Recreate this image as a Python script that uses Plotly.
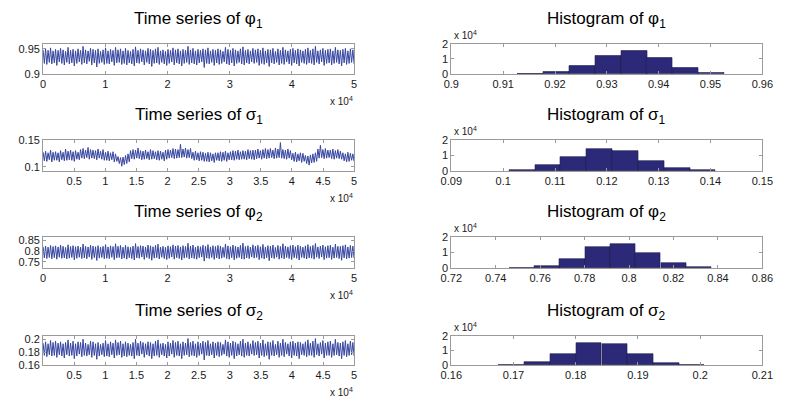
import numpy as np
import plotly.graph_objects as go

# ---------------- data ----------------
n_iter = 50000

phi1_trace = [
    0.948,0.921,0.950,0.919,0.947,0.923,0.952,0.920,0.946,0.922,
    0.949,0.917,0.947,0.924,0.951,0.921,0.948,0.918,0.945,0.923,
    0.953,0.920,0.947,0.922,0.949,0.916,0.946,0.921,0.950,0.924,
    0.947,0.919,0.955,0.922,0.948,0.920,0.946,0.925,0.951,0.918,
    0.949,0.922,0.947,0.914,0.950,0.921,0.945,0.923,0.948,0.919,
    0.952,0.921,0.946,0.920,0.949,0.924,0.947,0.917,0.953,0.922,
    0.948,0.923,0.950,0.919,0.946,0.921,0.951,0.918,0.947,0.922,
    0.945,0.920,0.949,0.916,0.954,0.922,0.947,0.921,0.950,0.924,
    0.948,0.918,0.946,0.923,0.951,0.920,0.949,0.915,0.947,0.921,
    0.950,0.922,0.953,0.919,0.946,0.923,0.948,0.920,0.945,0.917,
    0.949,0.921,0.947,0.924,0.952,0.918,0.948,0.922,0.950,0.920,
    0.946,0.916,0.949,0.921,0.947,0.923,0.955,0.919,0.948,0.922,
    0.951,0.920,0.946,0.918,0.949,0.922,0.947,0.924,0.950,0.913,
    0.948,0.921,0.952,0.920,0.946,0.923,0.949,0.917,0.947,0.922,
    0.950,0.919,0.948,0.921,0.945,0.924,0.953,0.920,0.949,0.918,
    0.947,0.922,0.951,0.916,0.948,0.921,0.946,0.923,0.950,0.920,
    0.954,0.918,0.947,0.922,0.949,0.920,0.946,0.924,0.951,0.921,
    0.948,0.923,0.950,0.917,0.947,0.921,0.952,0.919,0.946,0.922,
    0.949,0.915,0.948,0.922,0.951,0.920,0.945,0.923,0.950,0.918,
    0.947,0.921,0.953,0.919,0.948,0.924,0.946,0.920,0.949,0.917,
    0.951,0.922,0.947,0.920,0.950,0.916,0.948,0.923,0.946,0.921,
    0.949,0.919,0.952,0.922,0.947,0.921,0.950,0.918,0.955,0.923,
    0.946,0.920,0.948,0.924,0.951,0.917,0.947,0.921,0.949,0.922,
    0.950,0.918,0.946,0.921,0.953,0.923,0.948,0.920,0.947,0.916,
    0.949,0.922,0.951,0.919,0.946,0.921,0.950,0.923,0.948,0.920,
]

sigma1_trace = [
    0.127,0.111,0.129,0.110,0.126,0.113,0.131,0.109,0.127,0.112,
    0.128,0.112,0.126,0.109,0.130,0.113,0.127,0.111,0.133,0.112,
    0.129,0.113,0.131,0.112,0.128,0.110,0.130,0.114,0.127,0.113,
    0.132,0.116,0.134,0.115,0.131,0.117,0.136,0.114,0.132,0.116,
    0.131,0.115,0.130,0.113,0.133,0.116,0.129,0.114,0.132,0.112,
    0.127,0.112,0.129,0.111,0.126,0.113,0.128,0.109,0.124,0.110,
    0.119,0.106,0.117,0.101,0.118,0.104,0.121,0.106,0.124,0.109,
    0.130,0.115,0.132,0.114,0.131,0.116,0.135,0.115,0.130,0.113,
    0.129,0.114,0.131,0.115,0.128,0.113,0.132,0.114,0.130,0.115,
    0.128,0.113,0.130,0.112,0.129,0.114,0.127,0.111,0.131,0.114,
    0.132,0.116,0.131,0.117,0.134,0.115,0.133,0.116,0.132,0.117,
    0.142,0.117,0.133,0.118,0.135,0.116,0.132,0.117,0.134,0.115,
    0.127,0.112,0.129,0.113,0.126,0.111,0.128,0.112,0.127,0.110,
    0.125,0.110,0.127,0.109,0.126,0.111,0.124,0.108,0.126,0.112,
    0.126,0.111,0.128,0.110,0.127,0.112,0.129,0.110,0.126,0.113,
    0.128,0.113,0.130,0.112,0.129,0.114,0.131,0.113,0.128,0.114,
    0.130,0.114,0.129,0.113,0.132,0.115,0.130,0.114,0.131,0.113,
    0.131,0.115,0.133,0.116,0.130,0.114,0.132,0.116,0.134,0.115,
    0.132,0.116,0.134,0.117,0.131,0.115,0.135,0.116,0.133,0.117,
    0.145,0.116,0.132,0.115,0.131,0.114,0.133,0.116,0.130,0.113,
    0.125,0.110,0.127,0.109,0.124,0.111,0.126,0.108,0.125,0.110,
    0.121,0.106,0.120,0.103,0.122,0.107,0.124,0.108,0.126,0.110,
    0.133,0.116,0.140,0.117,0.132,0.115,0.134,0.116,0.131,0.117,
    0.131,0.115,0.133,0.114,0.130,0.116,0.132,0.115,0.129,0.114,
    0.126,0.111,0.124,0.109,0.127,0.110,0.125,0.112,0.124,0.110,
]

phi2_trace = [
    0.821,0.768,0.824,0.765,0.819,0.770,0.827,0.764,0.822,0.769,
    0.825,0.762,0.820,0.771,0.829,0.766,0.823,0.768,0.818,0.763,
    0.830,0.767,0.822,0.770,0.826,0.759,0.821,0.766,0.824,0.771,
    0.819,0.765,0.834,0.768,0.823,0.764,0.820,0.772,0.828,0.761,
    0.824,0.769,0.821,0.756,0.826,0.767,0.819,0.770,0.823,0.764,
    0.831,0.766,0.820,0.765,0.825,0.771,0.822,0.760,0.835,0.768,
    0.823,0.770,0.827,0.763,0.819,0.767,0.828,0.762,0.821,0.769,
    0.818,0.765,0.824,0.758,0.836,0.768,0.822,0.766,0.826,0.772,
    0.824,0.761,0.820,0.770,0.829,0.765,0.825,0.757,0.821,0.767,
    0.827,0.769,0.833,0.763,0.819,0.771,0.823,0.765,0.818,0.760,
    0.825,0.766,0.821,0.772,0.830,0.762,0.824,0.769,0.827,0.765,
    0.820,0.758,0.826,0.767,0.822,0.770,0.837,0.763,0.824,0.768,
    0.829,0.765,0.819,0.762,0.825,0.769,0.821,0.772,0.828,0.753,
    0.823,0.767,0.831,0.765,0.820,0.770,0.826,0.761,0.822,0.768,
    0.827,0.763,0.824,0.767,0.818,0.771,0.834,0.765,0.825,0.762,
    0.821,0.769,0.829,0.759,0.823,0.766,0.820,0.770,0.827,0.764,
    0.838,0.762,0.822,0.768,0.826,0.765,0.819,0.772,0.830,0.767,
    0.824,0.770,0.828,0.760,0.821,0.767,0.832,0.763,0.820,0.769,
    0.826,0.755,0.823,0.768,0.829,0.765,0.818,0.771,0.827,0.762,
    0.822,0.767,0.835,0.764,0.824,0.770,0.820,0.765,0.826,0.760,
    0.829,0.769,0.821,0.766,0.828,0.758,0.823,0.770,0.819,0.767,
    0.825,0.763,0.831,0.768,0.822,0.767,0.827,0.762,0.836,0.771,
    0.820,0.765,0.824,0.772,0.829,0.760,0.821,0.767,0.826,0.769,
    0.828,0.761,0.819,0.767,0.833,0.770,0.823,0.765,0.822,0.757,
    0.826,0.768,0.830,0.764,0.820,0.767,0.827,0.770,0.824,0.766,
]

sigma2_trace = [
    0.194,0.175,0.196,0.173,0.193,0.176,0.198,0.174,0.195,0.175,
    0.197,0.172,0.194,0.176,0.196,0.174,0.193,0.171,0.195,0.176,
    0.199,0.174,0.194,0.175,0.197,0.170,0.193,0.174,0.196,0.177,
    0.195,0.173,0.200,0.175,0.194,0.174,0.192,0.176,0.197,0.172,
    0.196,0.175,0.193,0.169,0.195,0.174,0.192,0.176,0.194,0.173,
    0.198,0.174,0.193,0.173,0.196,0.176,0.194,0.171,0.199,0.175,
    0.195,0.176,0.197,0.172,0.193,0.174,0.196,0.173,0.194,0.175,
    0.192,0.174,0.195,0.170,0.200,0.175,0.194,0.174,0.197,0.177,
    0.195,0.172,0.193,0.176,0.196,0.174,0.195,0.170,0.193,0.174,
    0.197,0.175,0.199,0.172,0.193,0.176,0.194,0.174,0.192,0.171,
    0.196,0.174,0.194,0.177,0.198,0.172,0.195,0.175,0.197,0.174,
    0.193,0.170,0.196,0.175,0.194,0.176,0.201,0.173,0.195,0.175,
    0.197,0.174,0.193,0.172,0.196,0.175,0.194,0.177,0.197,0.168,
    0.195,0.175,0.198,0.174,0.193,0.176,0.196,0.171,0.194,0.175,
    0.196,0.173,0.195,0.175,0.192,0.177,0.199,0.174,0.196,0.172,
    0.194,0.175,0.197,0.170,0.195,0.174,0.193,0.176,0.197,0.174,
    0.200,0.172,0.194,0.175,0.196,0.174,0.193,0.177,0.198,0.175,
    0.195,0.176,0.197,0.171,0.194,0.175,0.199,0.173,0.193,0.175,
    0.196,0.169,0.195,0.175,0.198,0.174,0.192,0.176,0.197,0.172,
    0.194,0.175,0.200,0.173,0.195,0.177,0.193,0.174,0.196,0.171,
    0.197,0.175,0.194,0.174,0.196,0.170,0.195,0.176,0.193,0.175,
    0.196,0.173,0.199,0.175,0.194,0.175,0.197,0.172,0.201,0.176,
    0.193,0.174,0.195,0.177,0.198,0.171,0.194,0.175,0.196,0.175,
    0.197,0.172,0.193,0.175,0.200,0.176,0.195,0.174,0.194,0.170,
    0.196,0.175,0.198,0.173,0.193,0.175,0.197,0.176,0.195,0.174,
]

# histogram bins (centres) and counts
phi1_bins = [0.9153, 0.9203, 0.9253, 0.9303, 0.9353, 0.9402, 0.9452, 0.9502]
phi1_counts = [200, 1300, 5300, 11700, 15400, 10800, 3800, 600]
sigma1_bins = [0.1037, 0.1086, 0.1136, 0.1186, 0.1236, 0.1286, 0.1336, 0.1385]
sigma1_counts = [400, 3700, 9200, 14400, 12900, 6200, 1900, 400]
phi2_bins = [0.7519, 0.7632, 0.7745, 0.7858, 0.7971, 0.8086, 0.8200, 0.8313]
phi2_counts = [200, 1300, 5800, 13300, 15300, 9700, 3000, 400]
sigma2_bins = [0.1696, 0.1738, 0.1780, 0.1821, 0.1863, 0.1904, 0.1945, 0.1986]
sigma2_counts = [200, 2000, 7600, 15200, 14800, 7600, 1800, 300]

# titles / ticks
names = ["φ<sub>1</sub>", "σ<sub>1</sub>", "φ<sub>2</sub>", "σ<sub>2</sub>"]
ts_xticks_full = [0, 10000, 20000, 30000, 40000, 50000]
ts_xlabels_full = ["0", "1", "2", "3", "4", "5"]
ts_xticks_half = [5000, 10000, 15000, 20000, 25000, 30000, 35000, 40000, 45000, 50000]
ts_xlabels_half = ["0.5", "1", "1.5", "2", "2.5", "3", "3.5", "4", "4.5", "5"]

ts_yticks = [[0.9, 0.95], [0.1, 0.15], [0.75, 0.8, 0.85], [0.16, 0.18, 0.2]]
ts_ylabels = [["0.9", "0.95"], ["0.1", "0.15"], ["0.75", "0.8", "0.85"], ["0.16", "0.18", "0.2"]]
ts_yranges = [[0.9, 0.96], [0.092, 0.15], [0.72, 0.867], [0.16, 0.205]]

h_xticks = [
    [0.9, 0.91, 0.92, 0.93, 0.94, 0.95, 0.96],
    [0.09, 0.1, 0.11, 0.12, 0.13, 0.14, 0.15],
    [0.72, 0.74, 0.76, 0.78, 0.8, 0.82, 0.84, 0.86],
    [0.16, 0.17, 0.18, 0.19, 0.2, 0.21],
]
h_xlabels = [
    ["0.9", "0.91", "0.92", "0.93", "0.94", "0.95", "0.96"],
    ["0.09", "0.1", "0.11", "0.12", "0.13", "0.14", "0.15"],
    ["0.72", "0.74", "0.76", "0.78", "0.8", "0.82", "0.84", "0.86"],
    ["0.16", "0.17", "0.18", "0.19", "0.2", "0.21"],
]
h_yticks = [0, 10000, 20000]
h_ylabels = ["0", "1", "2"]

traces = [phi1_trace, sigma1_trace, phi2_trace, sigma2_trace]
hbins = [phi1_bins, sigma1_bins, phi2_bins, sigma2_bins]
hcounts = [phi1_counts, sigma1_counts, phi2_counts, sigma2_counts]

# ---------------- layout geometry (pixels) ----------------
W, H = 786, 408
left_x = (33, 353)
right_x = (453, 773)
rows_y = [(39, 70), (138, 170), (238, 270), (340, 370)]

FONT = "Arial, 'Liberation Sans', Helvetica, sans-serif"
LINE_COL = "#3646a0"
BAR_COL = "#2c2a78"
AX_COL = "#9a9a9a"

fig = go.Figure()
layout = dict(
    width=W, height=H, margin=dict(l=0, r=0, t=0, b=0),
    paper_bgcolor="white", plot_bgcolor="white", showlegend=False,
    font=dict(family=FONT, size=11, color="#1a1a1a"),
)
annotations = []


def px2x(p):
    return p / W


def px2y(p):
    return 1 - p / H


def axis_common():
    return dict(showline=True, linecolor=AX_COL, linewidth=1, mirror="ticks",
                ticks="inside", ticklen=3, tickcolor=AX_COL, showgrid=False,
                zeroline=False, tickfont=dict(family=FONT, size=11, color="#1a1a1a"))


for i in range(4):
    y0, y1 = rows_y[i]
    ydom = [px2y(y1), px2y(y0)]
    # time series
    xa = 2 * i + 1
    ya = 2 * i + 1
    vals = traces[i]
    iters = np.linspace(1, n_iter, len(vals))
    fig.add_trace(go.Scatter(x=iters, y=vals, mode="lines",
                             line=dict(color=LINE_COL, width=1.0, simplify=False),
                             xaxis=f"x{xa}", yaxis=f"y{ya}", hoverinfo="skip"))
    full = (i % 2 == 0)
    xa_d = axis_common()
    xa_d.update(domain=[px2x(left_x[0]), px2x(left_x[1])], range=[0, n_iter],
                tickmode="array",
                tickvals=ts_xticks_full if full else ts_xticks_half,
                ticktext=ts_xlabels_full if full else ts_xlabels_half,
                anchor=f"y{ya}")
    ya_d = axis_common()
    ya_d.update(domain=ydom, range=ts_yranges[i], tickmode="array",
                tickvals=ts_yticks[i], ticktext=ts_ylabels[i], anchor=f"x{xa}")
    layout[f"xaxis{xa}"] = xa_d
    layout[f"yaxis{ya}"] = ya_d

    # histogram
    xb = 2 * i + 2
    yb = 2 * i + 2
    b = hbins[i]
    width = float(np.mean(np.diff(b)))
    fig.add_trace(go.Bar(x=b, y=hcounts[i], width=width,
                         marker=dict(color=BAR_COL, line=dict(color="#1c1c4a", width=0.6)),
                         xaxis=f"x{xb}", yaxis=f"y{yb}", hoverinfo="skip"))
    xb_d = axis_common()
    xb_d.update(domain=[px2x(right_x[0]), px2x(right_x[1])],
                range=[h_xticks[i][0], h_xticks[i][-1]], tickmode="array",
                tickvals=h_xticks[i], ticktext=h_xlabels[i], anchor=f"y{yb}")
    yb_d = axis_common()
    yb_d.update(domain=ydom, range=[0, 20000], tickmode="array",
                tickvals=h_yticks, ticktext=h_ylabels, anchor=f"x{xb}")
    layout[f"xaxis{xb}"] = xb_d
    layout[f"yaxis{yb}"] = yb_d

    # titles
    ty = y0 - 25
    annotations.append(dict(text=f"Time series of {names[i]}", x=px2x((left_x[0] + left_x[1]) / 2),
                            y=px2y(ty), xref="paper", yref="paper", showarrow=False,
                            font=dict(family=FONT, size=17, color="black"),
                            xanchor="center", yanchor="middle"))
    annotations.append(dict(text=f"Histogram of {names[i]}", x=px2x((right_x[0] + right_x[1]) / 2),
                            y=px2y(ty), xref="paper", yref="paper", showarrow=False,
                            font=dict(family=FONT, size=17, color="black"),
                            xanchor="center", yanchor="middle"))
    # exponent labels
    annotations.append(dict(text="x 10<sup>4</sup>", x=px2x(left_x[1] + 1), y=px2y(y1 + 28),
                            xref="paper", yref="paper", showarrow=False,
                            font=dict(family=FONT, size=10, color="#1a1a1a"),
                            xanchor="right", yanchor="middle"))
    annotations.append(dict(text="x 10<sup>4</sup>", x=px2x(right_x[0] + 1), y=px2y(y0 - 9),
                            xref="paper", yref="paper", showarrow=False,
                            font=dict(family=FONT, size=10, color="#1a1a1a"),
                            xanchor="left", yanchor="middle"))

layout["annotations"] = annotations
layout["bargap"] = 0
fig.update_layout(**layout)
fig.write_html("out.html")
